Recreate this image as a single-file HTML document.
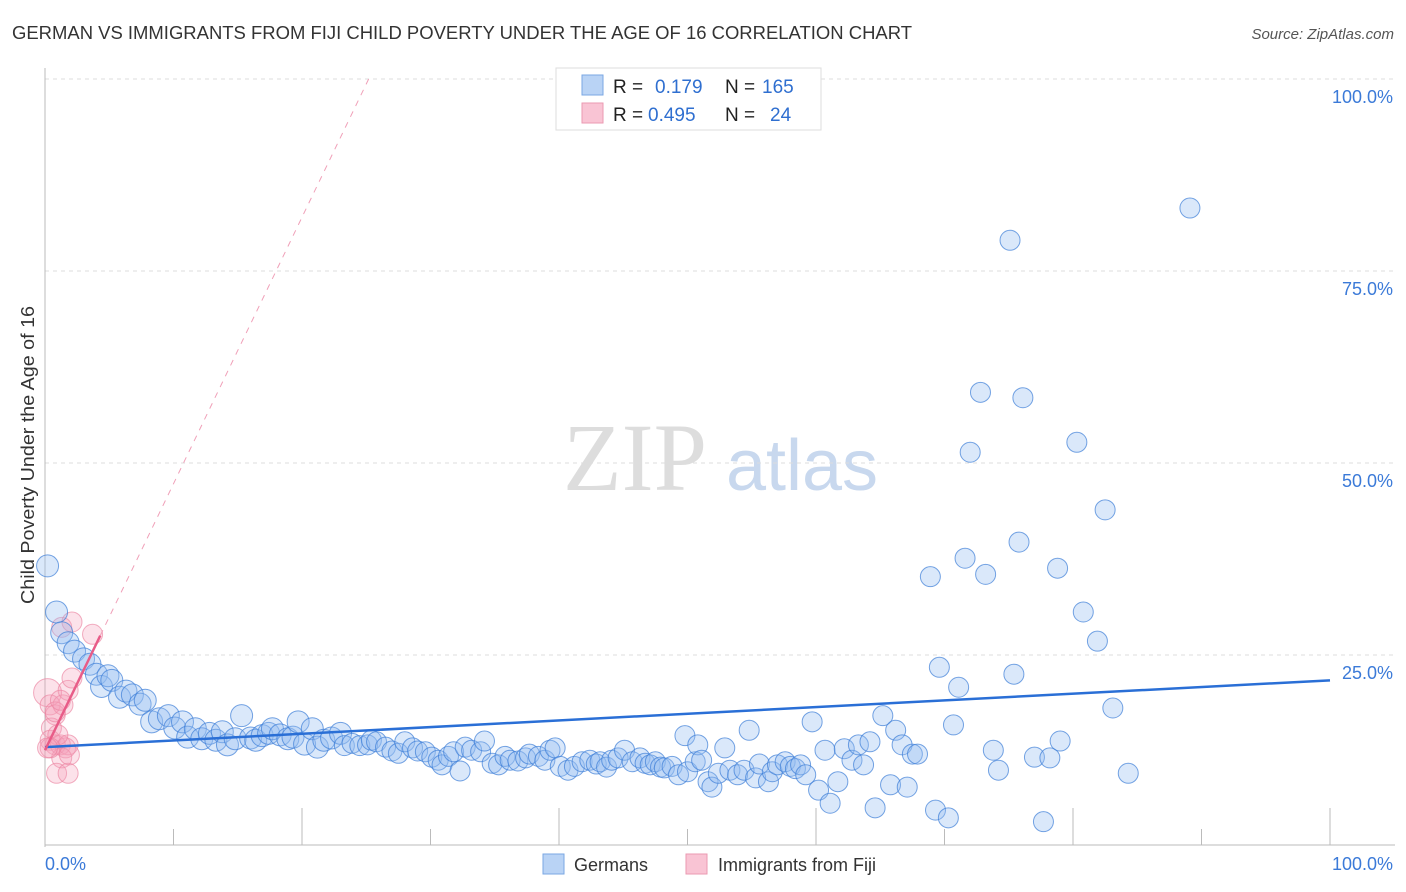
<!DOCTYPE html>
<html><head><meta charset="utf-8">
<style>
body{margin:0;background:#fff;font-family:"Liberation Sans",sans-serif;}
svg{display:block}
</style></head>
<body>
<svg id="chart" width="1406" height="892">
<text x="12" y="39" font-size="18" fill="#333" textLength="900" lengthAdjust="spacingAndGlyphs">GERMAN VS IMMIGRANTS FROM FIJI CHILD POVERTY UNDER THE AGE OF 16 CORRELATION CHART</text>
<text x="1394" y="39" font-size="15" fill="#555" font-style="italic" text-anchor="end">Source: ZipAtlas.com</text>
<text x="0" y="0" transform="translate(34,455) rotate(-90)" font-size="18" fill="#333" text-anchor="middle" textLength="298" lengthAdjust="spacingAndGlyphs">Child Poverty Under the Age of 16</text>
<g>
<text x="635" y="490" font-size="96" font-family="Liberation Serif,serif" fill="#ddd" text-anchor="middle">ZIP</text>
<text x="802" y="490" font-size="72" fill="#c8d8ee" text-anchor="middle">atlas</text>
</g>
<g id="grid"></g>
<g id="axes"></g>
<g id="marks"></g>
<g id="legend">
<rect x="556" y="68" width="265" height="62" fill="#fff" stroke="#ddd"/>
<rect x="582" y="75" width="21" height="20" fill="#b9d3f5" stroke="#7aa7e3"/>
<rect x="582" y="103" width="21" height="20" fill="#f9c4d4" stroke="#eb9ab2"/>
<text x="613" y="93" font-size="19" fill="#222">R = </text>
<text x="655" y="93" font-size="19" fill="#2f6fd0">0.179</text>
<text x="725" y="93" font-size="19" fill="#222">N = </text>
<text x="762" y="93" font-size="19" fill="#2f6fd0">165</text>
<text x="613" y="121" font-size="19" fill="#222">R = </text>
<text x="648" y="121" font-size="19" fill="#2f6fd0">0.495</text>
<text x="725" y="121" font-size="19" fill="#222">N = </text>
<text x="770" y="121" font-size="19" fill="#2f6fd0">24</text>
</g>
<g>
<rect x="543" y="854" width="21" height="20" fill="#b9d3f5" stroke="#7aa7e3"/>
<text x="574" y="871" font-size="18" fill="#333">Germans</text>
<rect x="686" y="854" width="21" height="20" fill="#f9c4d4" stroke="#eb9ab2"/>
<text x="718" y="871" font-size="18" fill="#333">Immigrants from Fiji</text>
</g>
</svg>
<script>
const blueX=[0.2,0.9,1.3,1.8,2.3,3.0,3.5,4.0,4.4,4.9,5.2,5.8,6.3,6.8,7.4,7.8,8.3,8.9,9.6,10.1,10.7,11.1,11.7,12.2,12.8,13.3,13.8,14.2,14.8,15.3,16.0,16.4,16.9,17.4,17.7,18.3,18.9,19.3,19.7,20.2,20.8,21.2,21.7,22.3,23.0,23.3,23.9,24.5,25.1,25.4,25.8,26.5,27.0,27.5,28.0,28.6,29.0,29.6,30.1,30.6,30.9,31.4,31.8,32.3,32.7,33.2,33.9,34.2,34.8,35.3,35.8,36.2,36.8,37.4,37.7,38.4,38.9,39.3,39.7,40.1,40.7,41.2,41.8,42.4,42.9,43.2,43.7,44.1,44.6,45.1,45.7,46.3,46.7,47.1,47.5,47.9,48.2,48.8,49.3,49.8,50.0,50.6,50.8,51.1,51.6,51.9,52.4,52.9,53.3,53.9,54.4,54.8,55.3,55.6,56.3,56.6,57.0,57.6,58.0,58.4,58.8,59.2,59.7,60.2,60.7,61.1,61.7,62.2,62.8,63.3,63.7,64.2,64.6,65.2,65.8,66.2,66.7,67.1,67.5,67.9,68.9,69.3,69.6,70.3,70.7,71.1,71.6,72.0,72.8,73.2,73.8,74.2,75.1,75.4,75.8,76.1,77.0,77.7,78.2,78.8,79.0,80.3,80.8,81.9,82.5,83.1,84.3,89.1];
const blueY=[36.6,30.6,27.9,26.6,25.5,24.5,23.8,22.5,20.9,22.3,21.7,19.5,20.3,19.8,18.6,19.1,16.3,16.7,17.1,15.5,16.3,14.3,15.4,14.1,14.8,13.9,15.0,13.3,14.1,17.1,14.2,13.9,14.5,14.8,15.4,14.6,14.1,14.3,16.3,13.4,15.4,13.0,13.9,14.2,14.8,13.2,13.5,13.2,13.3,13.9,13.7,13.0,12.5,12.2,13.7,12.9,12.5,12.4,11.7,11.3,10.7,11.8,12.4,9.9,13.0,12.6,12.4,13.8,10.9,10.7,11.8,11.3,11.2,11.6,12.1,11.8,11.3,12.6,12.9,10.5,10.0,10.5,11.1,11.3,10.8,11.1,10.4,11.3,11.6,12.6,11.1,11.6,10.9,10.7,11.1,10.4,10.3,10.5,9.4,14.5,9.8,11.1,13.3,11.3,8.5,7.8,9.6,12.9,10.0,9.4,10.0,15.2,9.0,10.8,8.5,9.8,10.7,11.1,10.5,10.2,10.7,9.4,16.3,7.4,12.6,5.7,8.5,12.8,11.3,13.3,10.7,13.7,5.1,17.1,8.1,15.2,13.3,7.8,12.1,12.1,35.2,4.8,23.4,3.8,15.9,20.8,37.6,51.4,59.2,35.5,12.6,10.0,79.0,22.5,39.7,58.5,11.7,3.3,11.6,36.3,13.8,52.7,30.6,26.8,43.9,18.1,9.6,83.2];
const pinkX=[0.2,0.4,0.8,0.5,0.4,0.8,1.2,1.6,1.8,1.3,0.9,1.8,1.9,1.0,1.4,1.8,2.1,1.3,2.1,3.7,0.4,0.2,0.8,1.2];
const pinkY=[20.1,18.5,17.2,15.5,13.9,13.3,13.3,12.9,13.3,11.6,9.6,9.6,12.0,14.6,18.5,20.4,22.0,28.6,29.3,27.7,12.9,12.9,17.6,19.1];
const blueFit=[13.0,0.087];
const pinkFit=[12.6,3.47];
const yTicks=[25,50,75,100];
const xTickLabels=["0.0%","100.0%"];

const NS="http://www.w3.org/2000/svg";
const X0=45,X1=1330,Y0=847,Y1=79;
const sx=v=>X0+(X1-X0)*v/100;
const sy=v=>Y0-(Y0-Y1)*v/100;
function mk(tag,attrs,parent){const e=document.createElementNS(NS,tag);for(const k in attrs)e.setAttribute(k,attrs[k]);parent.appendChild(e);return e;}
const grid=document.getElementById('grid'),axes=document.getElementById('axes'),marks=document.getElementById('marks');
yTicks.forEach(t=>{
  const l=mk('line',{x1:X0,x2:1395,y1:sy(t),y2:sy(t),stroke:'#ddd','stroke-dasharray':'4,4'},grid);
  
  
  const tx=mk('text',{x:1393,y:sy(t)+24,'font-size':18,fill:'#3b7ad8','text-anchor':'end'},axes);
  tx.textContent=t.toFixed(1)+'%';
  
  
});
const ya=mk('line',{x1:X0,x2:X0,y1:68,y2:847,stroke:'#bbb'},axes);


const xa=mk('line',{x1:X0,x2:1395,y1:845,y2:845,stroke:'#bbb'},axes);


for(let i=1;i<=10;i++){const v=i*10;const tk=mk('line',{x1:sx(v),x2:sx(v),y1:i%2?829:808,y2:845,stroke:'#bbb'},axes);
  
  }
const xl0=mk('text',{x:45,y:870,'font-size':18,fill:'#3b7ad8'},axes);xl0.textContent=xTickLabels[0];


const xl1=mk('text',{x:1393,y:870,'font-size':18,fill:'#3b7ad8','text-anchor':'end'},axes);xl1.textContent=xTickLabels[1];



pinkX.forEach((x,i)=>{const c=mk('circle',{cx:sx(x),cy:sy(pinkY[i]),r:i==0?14:10,fill:'rgba(245,160,185,0.3)',stroke:'rgba(235,130,160,0.65)','stroke-width':1},marks);
  
  });
blueX.forEach((x,i)=>{const c=mk('circle',{cx:sx(x),cy:sy(blueY[i]),r:i<45?11:10,fill:'rgba(150,190,240,0.35)',stroke:'rgba(60,125,215,0.7)','stroke-width':1},marks);
  
  });
const bl=mk('line',{x1:sx(0),y1:sy(blueFit[0]),x2:sx(100),y2:sy(blueFit[0]+blueFit[1]*100),stroke:'#2a6fd6','stroke-width':2.5},marks);


const pxEnd=(100-pinkFit[0])/pinkFit[1];
const pd=mk('line',{x1:sx(4.3),y1:sy(pinkFit[0]+pinkFit[1]*4.3),x2:sx(pxEnd),y2:sy(100),stroke:'#f0a0b8','stroke-width':1,'stroke-dasharray':'6,6'},marks);


const pl=mk('line',{x1:sx(0),y1:sy(pinkFit[0]),x2:sx(4.3),y2:sy(pinkFit[0]+pinkFit[1]*4.3),stroke:'#e85c88','stroke-width':2.5},marks);


</script>
</body></html>
